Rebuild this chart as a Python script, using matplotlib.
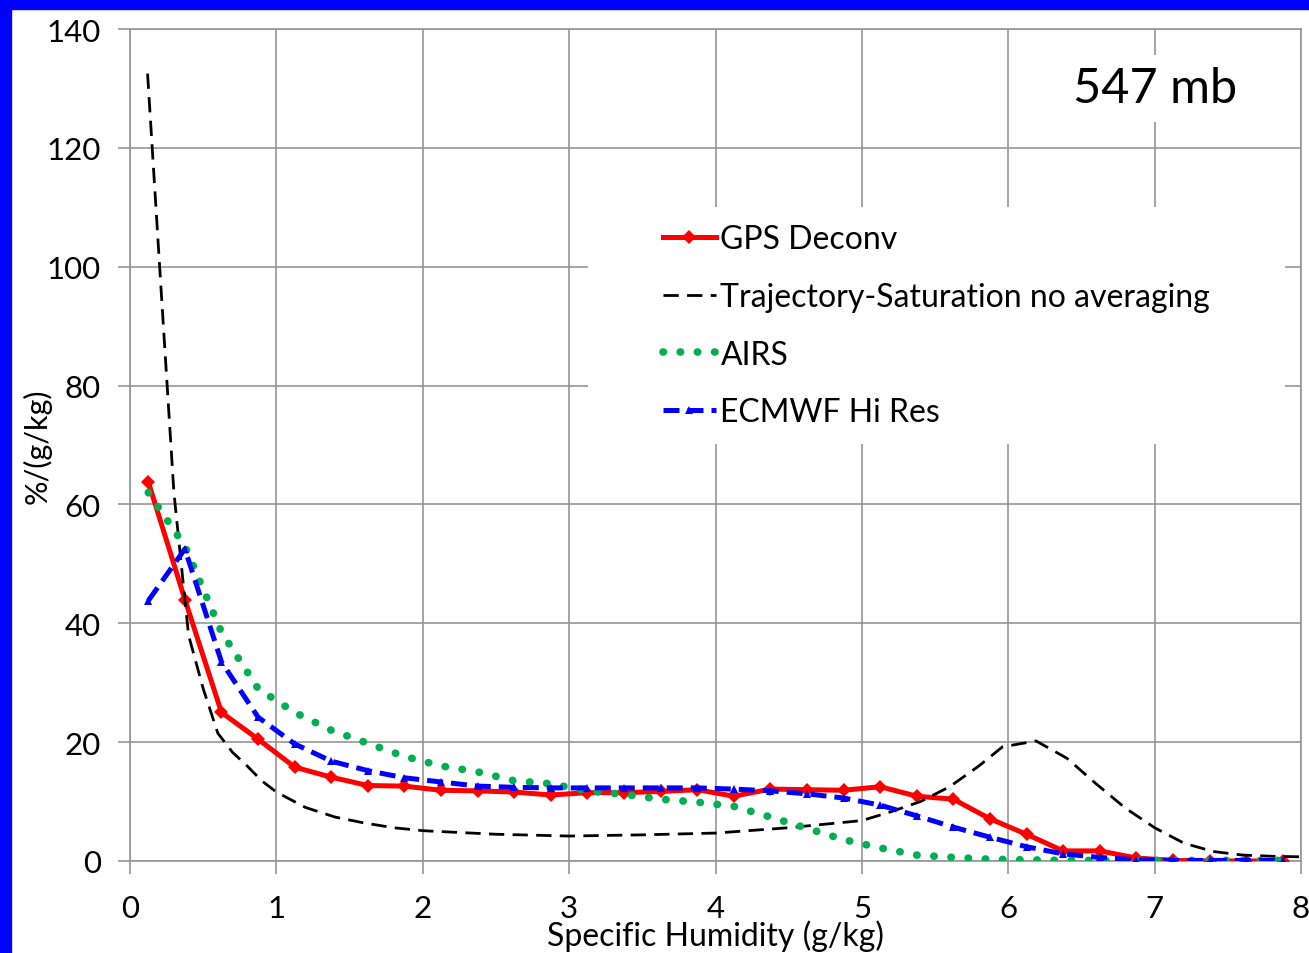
import matplotlib.pyplot as plt
from matplotlib.patches import Rectangle

plt.rcParams['font.family'] = ['Lato', 'DejaVu Sans']

# bin centres, specific humidity (g/kg)
q = [0.125, 0.375, 0.625, 0.875, 1.125, 1.375, 1.625, 1.875,
     2.125, 2.375, 2.625, 2.875, 3.125, 3.375, 3.625, 3.875,
     4.125, 4.375, 4.625, 4.875, 5.125, 5.375, 5.625, 5.875,
     6.125, 6.375, 6.625, 6.875, 7.125, 7.375, 7.625, 7.875]

gps = [63.8, 44.0, 25.0, 20.5, 15.8, 14.1, 12.7, 12.6, 11.9, 11.8, 11.6, 11.1,
       11.5, 11.5, 11.7, 12.0, 10.9, 12.1, 12.0, 11.9, 12.5, 10.9, 10.4, 7.1,
       4.5, 1.7, 1.7, 0.5, 0.1, 0.0, 0.0, 0.0]

airs = [62.0, 53.0, 38.5, 29.0, 25.0, 22.0, 19.8, 17.6, 16.0, 15.0, 13.5, 13.0,
        11.8, 11.2, 10.4, 9.9, 9.2, 7.4, 5.5, 3.6, 2.2, 1.0, 0.6, 0.3,
        0.2, 0.1, 0.1, 0.1, 0.1, 0.1, 0.1, 0.1]

ecmwf = [43.8, 52.5, 33.5, 24.2, 19.7, 16.8, 15.2, 14.0, 13.3, 12.6, 12.4, 12.3,
         12.3, 12.3, 12.3, 12.3, 12.1, 11.8, 11.3, 10.6, 9.4, 7.6, 5.7, 4.0,
         2.4, 1.2, 0.6, 0.2, 0.1, 0.1, 0.1, 0.1]

# trajectory-saturation curve has its own sampling
q_traj = [0.12, 0.2, 0.3, 0.4, 0.5, 0.6, 0.7, 0.8, 0.9, 1.0, 1.2, 1.4, 1.6, 1.8,
          2.0, 2.5, 3.0, 3.5, 4.0, 4.5, 5.0, 5.2, 5.4, 5.6, 5.8, 5.96, 6.19,
          6.4, 6.6, 6.8, 7.0, 7.2, 7.4, 7.6, 7.8, 8.0]
traj = [132.5, 101.0, 62.0, 38.0, 29.0, 21.5, 18.3, 16.0, 13.5, 11.6, 9.0, 7.4,
        6.4, 5.6, 5.1, 4.5, 4.2, 4.4, 4.7, 5.6, 6.8, 8.3, 10.0, 12.5, 16.0,
        19.2, 20.2, 17.3, 13.0, 8.9, 5.6, 3.0, 1.6, 1.0, 0.8, 0.7]

fig = plt.figure(figsize=(13.09, 9.54), dpi=100)
ax = fig.add_axes([130 / 1309, 92 / 954, 1171 / 1309, 832 / 954])

# blue slide border on the left and top
fig.patches.append(Rectangle((0, 0), 11 / 1309, 1, transform=fig.transFigure,
                             color='#0000ff', zorder=10))
fig.patches.append(Rectangle((0, 1 - 10 / 954), 1, 10 / 954, transform=fig.transFigure,
                             color='#0000ff', zorder=10))

ax.plot(q, gps, color='#ff0000', lw=3.6, marker='D', ms=7, mew=0,
        label='GPS Deconv', zorder=3)
ax.plot(q_traj, traj, color='black', lw=2.0, linestyle=(0, (5.5, 3)),
        label='Trajectory-Saturation no averaging', zorder=4)
ax.plot(q, airs, color='#00b050', lw=5.5, linestyle=(0, (0.05, 2.2)),
        dash_capstyle='round', label='AIRS', zorder=5)
ax.plot(q, ecmwf, color='#0000ff', lw=3.6, linestyle=(0, (3.2, 1.6)),
        marker='^', ms=6, mew=0, label='ECMWF Hi Res', zorder=6)

ax.set_xlim(0, 8)
ax.set_ylim(0, 140)
ax.set_xticks(range(0, 9))
ax.set_yticks(range(0, 141, 20))
ax.grid(True, color='#969696', lw=1.2)
ax.set_axisbelow(True)
for s in ax.spines.values():
    s.set_color('#969696')
    s.set_linewidth(1.2)
ax.tick_params(direction='out', length=9, width=1.2, color='#969696',
               labelsize=22.5, pad=12)
ax.tick_params(axis='x', pad=15)

ax.set_xlabel('Specific Humidity (g/kg)', fontsize=23, labelpad=-2)
ax.set_ylabel('%/(g/kg)', fontsize=22, labelpad=-4)

ax.text(7.0, 130, '547 mb', fontsize=35, ha='center', va='center',
        bbox=dict(facecolor='white', edgecolor='none', pad=8), zorder=7)

# white block behind the legend, hiding the grid
ax.add_patch(Rectangle((458 / 1171, 417 / 832), 697 / 1171, 237 / 832,
                       transform=ax.transAxes, facecolor='white',
                       edgecolor='none', zorder=7))

leg = ax.legend(loc='upper left', bbox_to_anchor=(533 / 1171, 1 - 195 / 832),
                fontsize=23, frameon=False, handlelength=1.65, handletextpad=0.15,
                labelspacing=0.87, borderpad=0, borderaxespad=0)
leg.set_zorder(8)

plt.savefig('out.png', dpi=100)
